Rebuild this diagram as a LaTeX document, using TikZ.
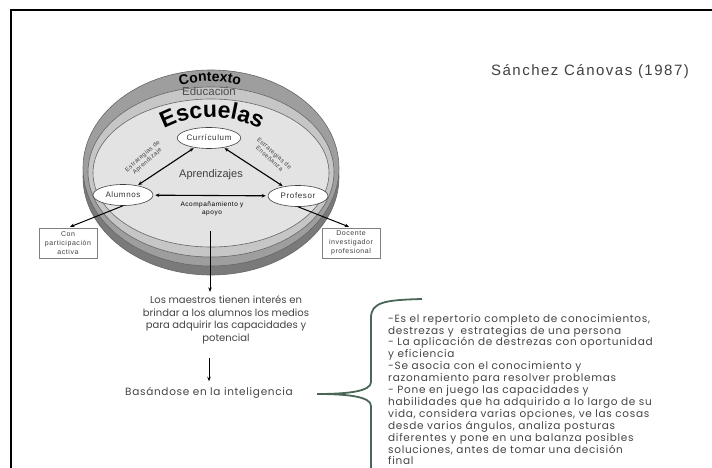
\documentclass[tikz,border=0pt]{standalone}
\usepackage{fontspec}
\setmainfont{Liberation Sans}
\newfontfamily\widefont[LetterSpace=8]{Liberation Sans}
\newfontfamily\titlefont[LetterSpace=10]{Liberation Sans}
\newfontfamily\geofont{Poppins}
\newfontfamily\geowide[LetterSpace=6.5]{Poppins}
\usetikzlibrary{arrows.meta,decorations.text,shapes.geometric}

\definecolor{sidegray}{HTML}{7A7A7A}
\definecolor{ctxgray}{HTML}{9E9E9E}
\definecolor{edugray}{HTML}{C6C6C6}
\definecolor{schoolgray}{HTML}{E3E3E3}
\definecolor{inkgray}{HTML}{444444}
\definecolor{bracegreen}{HTML}{4A6656}

\begin{document}
\begin{tikzpicture}[x=1pt,y=-1pt,
  oval/.style={ellipse, draw=black!75, fill=white, line width=0.6pt, inner sep=0pt,
    minimum width=60pt, minimum height=21pt, text=black!80,
    font=\widefont\fontsize{8}{9}\selectfont},
  tagbox/.style={draw=black!50, fill=white, line width=0.7pt, minimum width=58pt,
    minimum height=30pt, inner sep=1pt, align=center, text=black!75,
    font=\widefont\fontsize{7}{9}\selectfont},
  tinylabel/.style={align=center, inner sep=0pt, text=black!75,
    font=\widefont\fontsize{6}{7}\selectfont},
  link/.style={{Stealth[length=4pt,width=3.5pt]}-{Stealth[length=4pt,width=3.5pt]}, line width=1.1pt},
  pointer/.style={-{Stealth[length=4.5pt,width=3.5pt]}, line width=1pt},
  body/.style={inner sep=0pt, text=inkgray, font=\geofont\fontsize{10}{12.5}\selectfont},
  ring/.style={draw=black!60, line width=0.6pt}
]
\useasboundingbox (0,0) rectangle (712,468);
\clip (0,0) rectangle (712,468);

% page frame
\draw[line width=2pt] (10,10.5) -- (712,10.5);
\draw[line width=2pt] (10.5,10) -- (10.5,468);

% layered disc: side, context, education, schools
\fill[sidegray, ring] (211,177) ellipse [x radius=128, y radius=98];
\fill[ctxgray, ring] (211,168) ellipse [x radius=128, y radius=98];
\fill[edugray, ring] (211,172) ellipse [x radius=123, y radius=85];
\fill[schoolgray, ring] (211,173) ellipse [x radius=118, y radius=74];

% ring titles
\path[decorate, decoration={text along path, text align=center,
  text={|\bfseries\fontsize{14}{14}\selectfont|Contexto}}]
  (156,95) .. controls (188,77) and (232,77) .. (264,95);
\node[text=black!70, font=\fontsize{11.5}{12}\selectfont] (edu) at (209,91) {Educación};
\path[decorate, decoration={text along path, text align=center,
  text={|\bfseries\fontsize{23}{23}\selectfont|Escuelas}}]
  (142,146) .. controls (178,108) and (246,108) .. (282,146);

% actors
\node[oval, minimum width=56pt] (curr) at (209,138) {Currículum};
\node[oval] (alum) at (123,195) {Alumnos};
\node[oval] (prof) at (298,196) {Profesor};
\node[text=black!75, font=\fontsize{11}{12}\selectfont] (apr) at (211,175) {Aprendizajes};

\draw[link, shorten <=1pt, shorten >=1pt] (alum) -- (curr);
\draw[link, shorten <=1pt, shorten >=1pt] (curr) -- (prof);
\draw[link, shorten <=2pt, shorten >=2pt] (alum) -- (prof);

\node[tinylabel, rotate=42] (lblA) at (145,159) {Estrategias de\\Aprendizaje};
\node[tinylabel, rotate=-42] (lblE) at (272,156) {Estrategias de\\Enseñanza};
\node[tinylabel, text=black, font=\widefont\fontsize{6.5}{8}\selectfont] (acomp) at (212,209)
  {Acompañamiento y\\apoyo};

% outcome boxes
\node[tagbox] (con) at (68,243) {Con\\participación\\activa};
\node[tagbox] (doc) at (351,243) {Docente\\investigador\\profesional};
\draw[pointer, shorten >=2pt] (alum.south) -- (con.north);
\draw[pointer, shorten >=2pt] (prof.south) -- (doc.north);

% citation
\node[text=black!75, font=\titlefont\fontsize{15}{16}\selectfont] (cite) at (590,72)
  {Sánchez Cánovas (1987)};

% lower chain
\coordinate (hub) at (210,231);
\node[body, align=center] (maestros) at (226,320)
  {Los maestros tienen interés en\\brindar a los alumnos los medios\\para adquirir las capacidades y\\potencial};
\node[body, font=\geowide\fontsize{10.5}{12.5}\selectfont] (basa) at (209,393) {Basándose en la inteligencia};
\draw[pointer, shorten >=4pt] (hub) -- (maestros.north -| hub);
\draw[pointer, shorten <=14pt, shorten >=6pt] (maestros.south -| basa.north) -- (basa.north);

% brace and definition list
\coordinate (tip) at (317,394);
\draw[bracegreen, line width=1.8pt]
  (422,299) .. controls (385,300) and (371,302) .. (371,318) -- (371,382)
  .. controls (371,391) and (350,394) .. (tip)
  .. controls (350,394) and (371,397) .. (371,406) -- (371,470);
\node[body, align=left, anchor=north west, font=\geowide\fontsize{10.5}{11.9}\selectfont] (defs) at (388,314)
  {-Es el repertorio completo de conocimientos,\\
   destrezas y\ \ estrategias de una persona\\
   - La aplicación de destrezas con oportunidad\\
   y eficiencia\\
   -Se asocia con el conocimiento y\\
   razonamiento para resolver problemas\\
   - Pone en juego las capacidades y\\
   habilidades que ha adquirido a lo largo de su\\
   vida, considera varias opciones, ve las cosas\\
   desde varios ángulos, analiza posturas\\
   diferentes y pone en una balanza posibles\\
   soluciones, antes de tomar una decisión\\
   final};
\end{tikzpicture}
\end{document}
